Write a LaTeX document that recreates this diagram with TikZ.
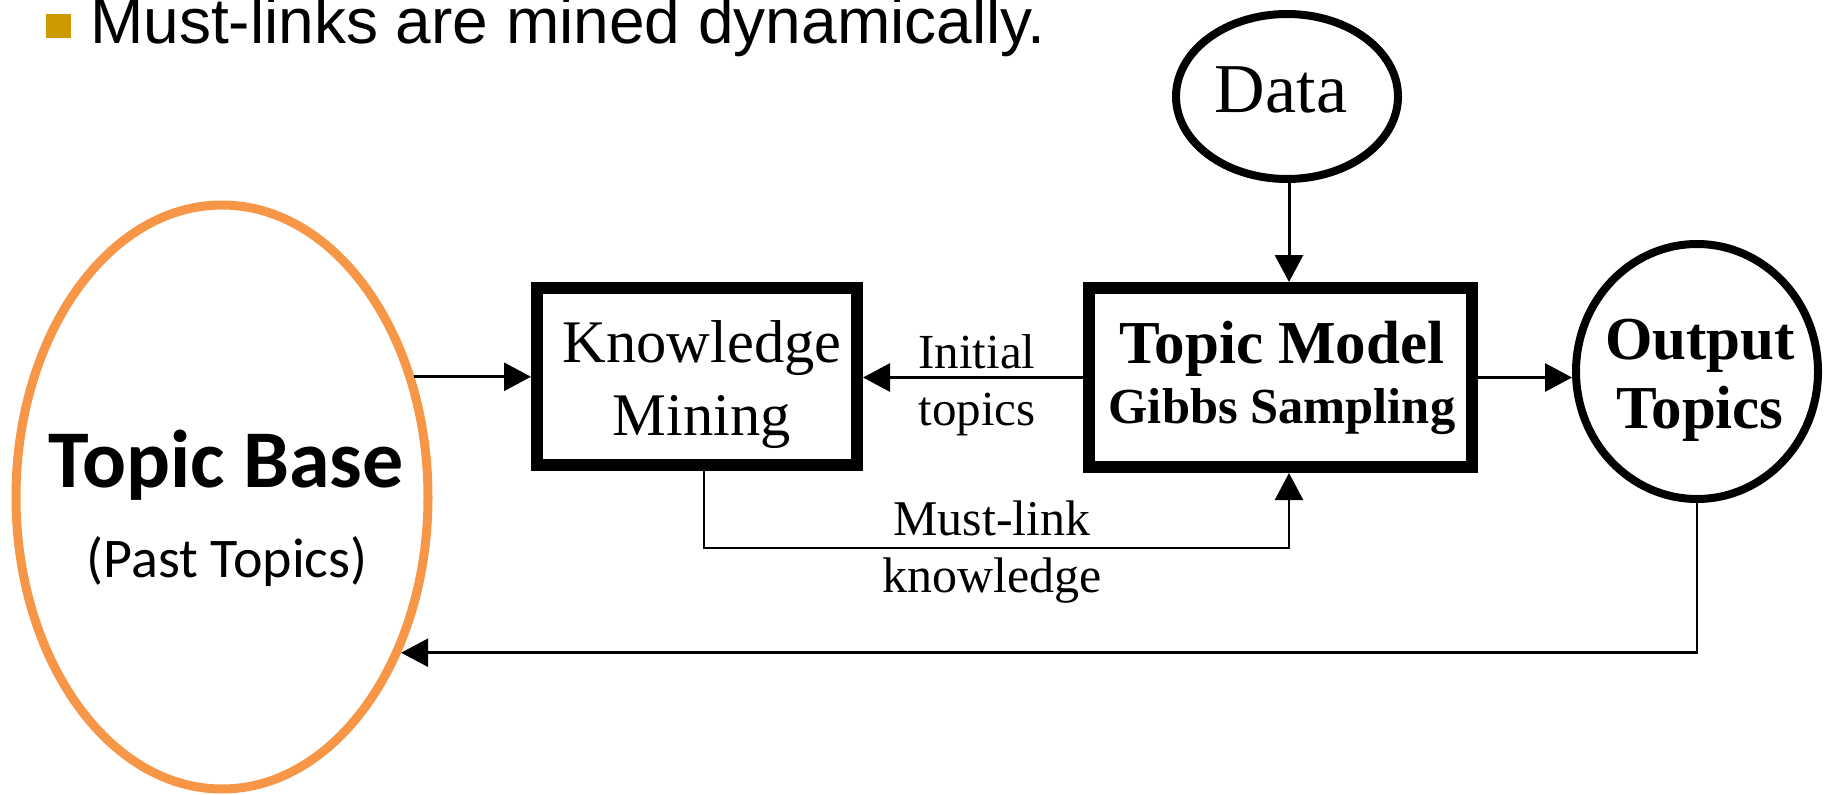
\documentclass[tikz,border=0pt]{standalone}
\usepackage{fontspec}
\setmainfont{Liberation Serif}
\newfontfamily\headfont{Liberation Sans}
\newfontfamily\calfont{Carlito}
\usetikzlibrary{arrows.meta,shapes.geometric}
\definecolor{tborange}{HTML}{F79646}
\definecolor{bulletgold}{HTML}{CC9900}
\begin{document}
\begin{tikzpicture}[x=1pt,y=-1pt,
  conn/.style={line width=3pt,-{Triangle[length=27pt,width=28pt]}},
  box/.style={draw,rectangle,line width=12pt,inner sep=0pt},
  oval/.style={draw,ellipse,line width=8pt,inner sep=0pt},
  txt/.style={inner sep=0pt,anchor=base},
]
\useasboundingbox (0,0) rectangle (1832,795);

% heading with its bullet
\fill[bulletgold] (46,14) rectangle (71,38);
\node[txt,anchor=base west,font=\headfont\fontsize{64}{70}\selectfont] (head) at (90,43) {Must-links are mined dynamically.};

% shapes
\node[oval,draw=tborange,line width=9pt,minimum width=412pt,minimum height=584pt] (tb) at (222,497) {};
\node[box,minimum width=320pt,minimum height=177pt] (km) at (697,376.5) {};
\node[box,minimum width=383pt,minimum height=179pt] (tm) at (1280.5,377.5) {};
\node[oval,minimum width=222pt,minimum height=165pt] (dt) at (1287,96.5) {};
\node[oval,minimum width=242pt,minimum height=255pt] (ot) at (1697,371.5) {};

% texts
\node[txt,font=\calfont\bfseries\fontsize{82}{90}\selectfont] (tbt) at (226,487) {Topic Base};
\node[txt,font=\calfont\fontsize{56}{60}\selectfont] (tbs) at (227,577) {(Past Topics)};
\node[txt,font=\fontsize{60.5}{70}\selectfont] (kmt) at (702,362) {Knowledge};
\node[txt,font=\fontsize{60.5}{70}\selectfont] (kmb) at (702,435) {Mining};
\node[txt,font=\bfseries\fontsize{61}{70}\selectfont] (tmt) at (1282,363) {Topic Model};
\node[txt,font=\bfseries\fontsize{50.5}{56}\selectfont] (tmb) at (1282,423) {Gibbs Sampling};
\node[txt,font=\fontsize{70}{80}\selectfont] (dtt) at (1281,112) {Data};
\node[txt,font=\bfseries\fontsize{61}{70}\selectfont] (ott) at (1700,359) {Output};
\node[txt,font=\bfseries\fontsize{61}{70}\selectfont] (otb) at (1700,428) {Topics};
\node[txt,font=\fontsize{49}{56}\selectfont] (it1) at (977,368) {Initial};
\node[txt,font=\fontsize{49}{56}\selectfont] (it2) at (977,425) {topics};
\node[txt,font=\fontsize{50}{56}\selectfont] (ml1) at (992,535) {Must-link};
\node[txt,font=\fontsize{50}{56}\selectfont] (ml2) at (992,592) {knowledge};

% connectors
\coordinate (mlL) at (704,548);
\coordinate (mlR) at (1289,548);
\draw[conn] (tb.32) -- (tb.32 -| km.west);
\draw[conn] (tm.west) -- (tm.west -| km.east);
\draw[conn] (tm.east) -- (tm.east -| ot.west);
\draw[conn] (dt.south -| mlR) -- (tm.north -| mlR);
\draw[conn,line width=2.5pt] (km.south -| mlL) -- (mlL) -| (tm.south -| mlR);
\draw[conn,line width=2.5pt] (ot.south) |- (tb.-41.3);
\end{tikzpicture}
\end{document}
